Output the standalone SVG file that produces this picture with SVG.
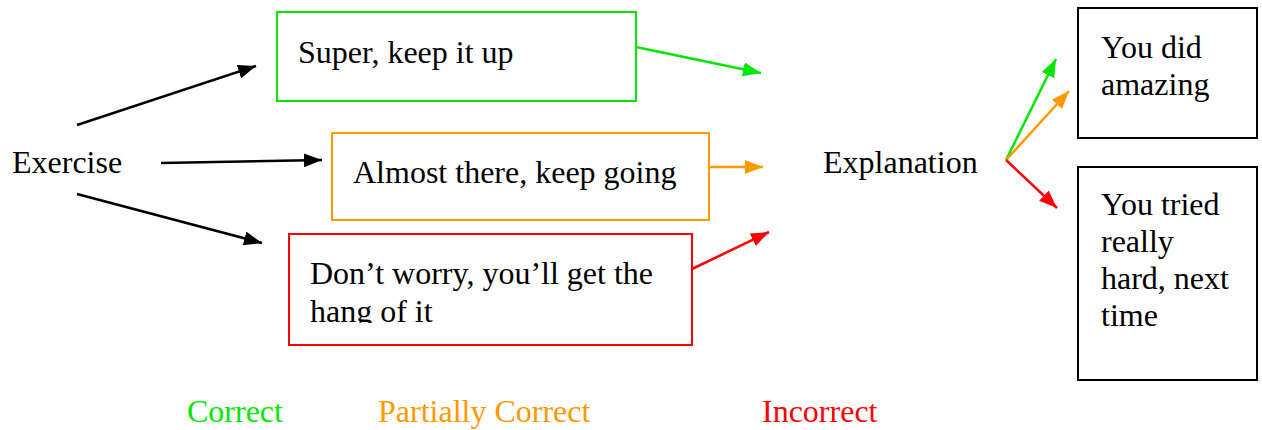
<svg xmlns="http://www.w3.org/2000/svg" width="1262" height="430" viewBox="0 0 1262 430">
<style>
text{font-family:"Liberation Serif","Times New Roman",serif;font-size:32px;fill:#000}
.box{fill:#fff;stroke-width:2}
.ln{fill:none;stroke-width:2.5}
</style>
<defs>
<marker id="ak" markerUnits="userSpaceOnUse" markerWidth="18" markerHeight="14" refX="18" refY="7" orient="auto"><path d="M0,0 L18,7 L0,14 Z" fill="#000"/></marker>
<marker id="ag" markerUnits="userSpaceOnUse" markerWidth="18" markerHeight="14" refX="18" refY="7" orient="auto"><path d="M0,0 L18,7 L0,14 Z" fill="#00e600"/></marker>
<marker id="ao" markerUnits="userSpaceOnUse" markerWidth="18" markerHeight="14" refX="18" refY="7" orient="auto"><path d="M0,0 L18,7 L0,14 Z" fill="#ff9900"/></marker>
<marker id="ar" markerUnits="userSpaceOnUse" markerWidth="18" markerHeight="14" refX="18" refY="7" orient="auto"><path d="M0,0 L18,7 L0,14 Z" fill="#ff0000"/></marker>
<clipPath id="redclip"><rect x="289" y="234" width="403" height="89"/></clipPath>
</defs>
<rect width="1262" height="430" fill="#fff"/>
<g id="exercise"><text x="12" y="173">Exercise</text></g>
<g id="correct-box"><rect class="box" x="277" y="12" width="359" height="89" stroke="#00e600"/><text x="298" y="63">Super, keep it up</text></g>
<g id="partial-box"><rect class="box" x="332" y="133" width="377" height="87" stroke="#ff9900"/><text x="353" y="183">Almost there, keep going</text></g>
<g id="incorrect-box"><rect class="box" x="289" y="234" width="403" height="111" stroke="#ff0000"/><g clip-path="url(#redclip)"><text x="310" y="284">Don’t worry, you’ll get the</text><text x="310" y="322">hang of it</text></g></g>
<g id="explanation"><text x="823" y="173">Explanation</text></g>
<g id="did-amazing"><rect class="box" x="1078" y="8" width="179" height="130" stroke="#000"/><text x="1101" y="58">You did</text><text x="1101" y="95">amazing</text></g>
<g id="tried-hard"><rect class="box" x="1078" y="167" width="179" height="213" stroke="#000"/><text x="1101" y="215">You tried</text><text x="1101" y="252">really</text><text x="1101" y="289">hard, next</text><text x="1101" y="326">time</text></g>
<g id="legend"><text x="187" y="422" style="fill:#00e600">Correct</text><text x="378" y="422" style="fill:#ff9900">Partially Correct</text><text x="762" y="422" style="fill:#ff0000">Incorrect</text></g>
<g id="connectors">
<line class="ln" x1="77" y1="125" x2="256" y2="66" stroke="#000" marker-end="url(#ak)"/>
<line class="ln" x1="161" y1="163" x2="322" y2="160" stroke="#000" marker-end="url(#ak)"/>
<line class="ln" x1="77" y1="194" x2="262" y2="243" stroke="#000" marker-end="url(#ak)"/>
<line class="ln" x1="636" y1="47" x2="761" y2="73" stroke="#00e600" marker-end="url(#ag)"/>
<line class="ln" x1="709" y1="167" x2="763" y2="167" stroke="#ff9900" marker-end="url(#ao)"/>
<line class="ln" x1="692" y1="269" x2="769" y2="232" stroke="#ff0000" marker-end="url(#ar)"/>
<line class="ln" x1="1006" y1="160" x2="1056" y2="59" stroke="#00e600" marker-end="url(#ag)"/>
<line class="ln" x1="1006" y1="160" x2="1069" y2="91" stroke="#ff9900" marker-end="url(#ao)"/>
<line class="ln" x1="1006" y1="160" x2="1057" y2="208" stroke="#ff0000" marker-end="url(#ar)"/>
</g>
</svg>
